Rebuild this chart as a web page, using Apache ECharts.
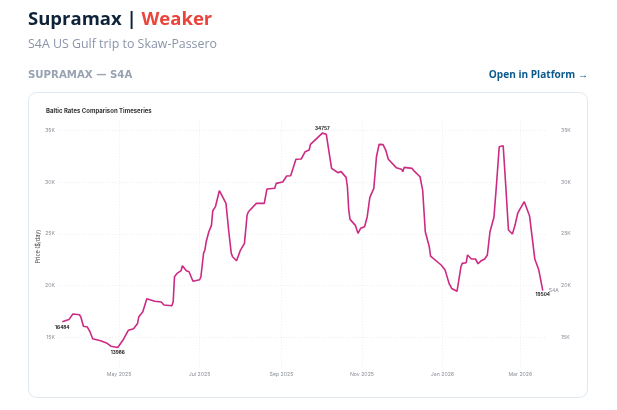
<!DOCTYPE html>
<html><head><meta charset="utf-8">
<style>html,body{margin:0;padding:0;background:#fff}#c{width:617px;height:410px}</style>
<script src="https://cdn.jsdelivr.net/npm/echarts@6/dist/echarts.min.js"></script>
</head><body><div id="c"></div>
<script>
const startDate = '2025-03-19';
const dayOffsets = [0,5,8,13,14,16,19,21,23,29,34,37,42,46,50,54,57,58,61,64,70,75,77,83,84,85,87,90,91,92,94,96,99,104,105,107,108,109,111,113,114,116,119,120,124,126,128,129,132,135,138,140,141,147,153,155,161,162,167,170,173,177,181,184,187,188,197,200,204,205,209,211,215,216,217,218,222,224,226,229,231,233,236,238,240,243,245,247,253,257,258,259,265,267,271,273,275,278,279,287,290,293,295,299,300,302,303,306,307,308,310,313,315,317,320,322,323,324,327,329,331,334,336,338,341,343,345,347,350,354,358,359,361,364];
const priceValues = [16484,16690,17230,17160,16960,16040,15970,15510,14840,14640,14390,14100,13986,14710,15650,15800,16320,16970,17450,18710,18460,18390,18100,18030,18420,20840,21170,21430,21910,21850,21420,21330,20400,20550,20840,23110,23430,24230,25200,25820,27240,27630,29180,29100,27950,25370,23110,22780,22390,23430,24080,26820,27140,27950,27950,29340,29410,29890,30020,30600,30630,32220,32250,32960,33120,33670,34757,34640,31350,31180,30920,31050,30470,29560,27310,26400,25820,25050,25530,25690,26660,28530,29410,32470,33670,33640,33120,32220,31410,31250,31020,31440,31340,31020,30530,29240,25200,23750,22850,21980,21490,20200,19710,19430,20200,21810,22140,22200,22950,22980,22560,22560,22100,22360,22560,22950,23110,25200,26600,29890,33440,33540,29560,25370,24980,25850,26990,27470,28110,26720,22530,22200,21490,19504];
const yTicks = [15000,20000,25000,30000,35000];
const xTicks = ['2025-05-01','2025-07-01','2025-09-01','2025-11-01','2026-01-01','2026-03-01'];
const seriesName = 'S4A';
const DAY = 86400000;
const t0 = +new Date(startDate + 'T00:00:00Z');
const tickTimes = xTicks.map(d => +new Date(d + 'T00:00:00Z'));
const MONTHS = ['Jan','Feb','Mar','Apr','May','Jun','Jul','Aug','Sep','Oct','Nov','Dec'];
const lo = Math.min(...priceValues), hi = Math.max(...priceValues);
const lastI = priceValues.length - 1;
const valueLabel = (v, pos, dist, off) => ({show:true, position:pos, distance:dist, offset:off, formatter:String(v), fontFamily:'Inter', fontSize:4.7, fontWeight:'bold', color:'#222'});
const seriesData = dayOffsets.map((d,i) => {
  const item = {value:[t0 + d*DAY, priceValues[i]]};
  if (i === 0) item.label = valueLabel(priceValues[i], 'bottom', 3, [3,0]);
  if (priceValues[i] === lo) item.label = valueLabel(priceValues[i], 'bottom', 3, [0,0]);
  if (i === lastI) item.label = valueLabel(priceValues[i], 'bottom', 2, [-3,0]);
  if (priceValues[i] === hi) item.label = valueLabel(priceValues[i], 'top', 2, [0,0]);
  return item;
});
const gridLine = {show:true, lineStyle:{color:'#eceef1', type:[1,2], width:1}};
const yAxisBase = {type:'value', min:12000, max:36000, axisLine:{show:false},
  axisTick:{show:false, customValues:yTicks}, splitLine:gridLine,
  axisLabel:{customValues:yTicks, formatter:v => (v/1000)+'K', fontFamily:'Inter', fontSize:5.2, color:'#8a8f98', margin:3}};
const chart = echarts.init(document.getElementById('c'), null, {renderer:'canvas', width:617, height:410});
chart.setOption({
  animation:false,
  backgroundColor:'#fff',
  title:[
    {left:28, top:10.5, padding:0, text:'{a|Supramax | }{b|Weaker}', textStyle:{rich:{
      a:{fontFamily:'Open Sans', fontSize:18.5, fontWeight:'bold', color:'#0e2238'},
      b:{fontFamily:'Open Sans', fontSize:18.5, fontWeight:'bold', color:'#e8453c'}}}},
    {left:28, top:38, padding:0, text:'S4A US Gulf trip to Skaw-Passero', textStyle:{fontFamily:'Open Sans', fontSize:12.4, fontWeight:'normal', color:'#8a95a8'}},
    {left:28, top:70, padding:0, text:'SUPRAMAX — S4A', textStyle:{fontFamily:'DejaVu Sans', fontSize:10.2, fontWeight:'bold', color:'#98a2b3'}},
    {right:29, top:70, padding:0, text:'Open in Platform →', textStyle:{fontFamily:'Open Sans', fontSize:10.1, fontWeight:'bold', color:'#0b5a8e'}},
    {left:46, top:108, padding:0, text:'Baltic Rates Comparison Timeseries', textStyle:{fontFamily:'Inter', fontSize:6, fontWeight:'bold', color:'#333'}}
  ],
  graphic:[{type:'rect', z:-1, shape:{x:28.5,y:92.5,width:559,height:305,r:8}, style:{fill:'#fff', stroke:'#dfe8ef', lineWidth:1}}],
  grid:{left:58, right:70, top:120.3, bottom:42, containLabel:false},
  xAxis:{type:'value', scale:true, min:t0-3.26*DAY, max:t0+367.2*DAY, axisLine:{show:false},
    axisTick:{show:false, customValues:tickTimes}, splitLine:gridLine,
    axisLabel:{customValues:tickTimes, formatter:v => {const d=new Date(v); return MONTHS[d.getUTCMonth()]+' '+d.getUTCFullYear();}, fontFamily:'Inter', fontSize:5.2, color:'#8a8f98', margin:4, hideOverlap:false}},
  yAxis:[
    Object.assign({}, yAxisBase, {position:'left', name:'Price ($/day)', nameLocation:'middle', nameMoveOverlap:false, nameGap:17, nameTextStyle:{fontFamily:'Inter', fontSize:5.5, color:'#444', padding:[0,5,0,0]}}),
    Object.assign({}, yAxisBase, {position:'right', splitLine:{show:false}, axisLabel:Object.assign({}, yAxisBase.axisLabel, {margin:14})})
  ],
  series:[{name:seriesName, type:'line', yAxisIndex:0, showSymbol:true, showAllSymbol:true, symbol:'circle', symbolSize:0, smooth:false,
    lineStyle:{color:'#cc2a83', width:1.6}, itemStyle:{color:'#cc2a83'}, data:seriesData,
    labelLayout:{hideOverlap:false},
    endLabel:{show:true, formatter:seriesName, distance:6, fontFamily:'Inter', fontSize:5, color:'#8a8f98'}}]
});
</script>
</body></html>
